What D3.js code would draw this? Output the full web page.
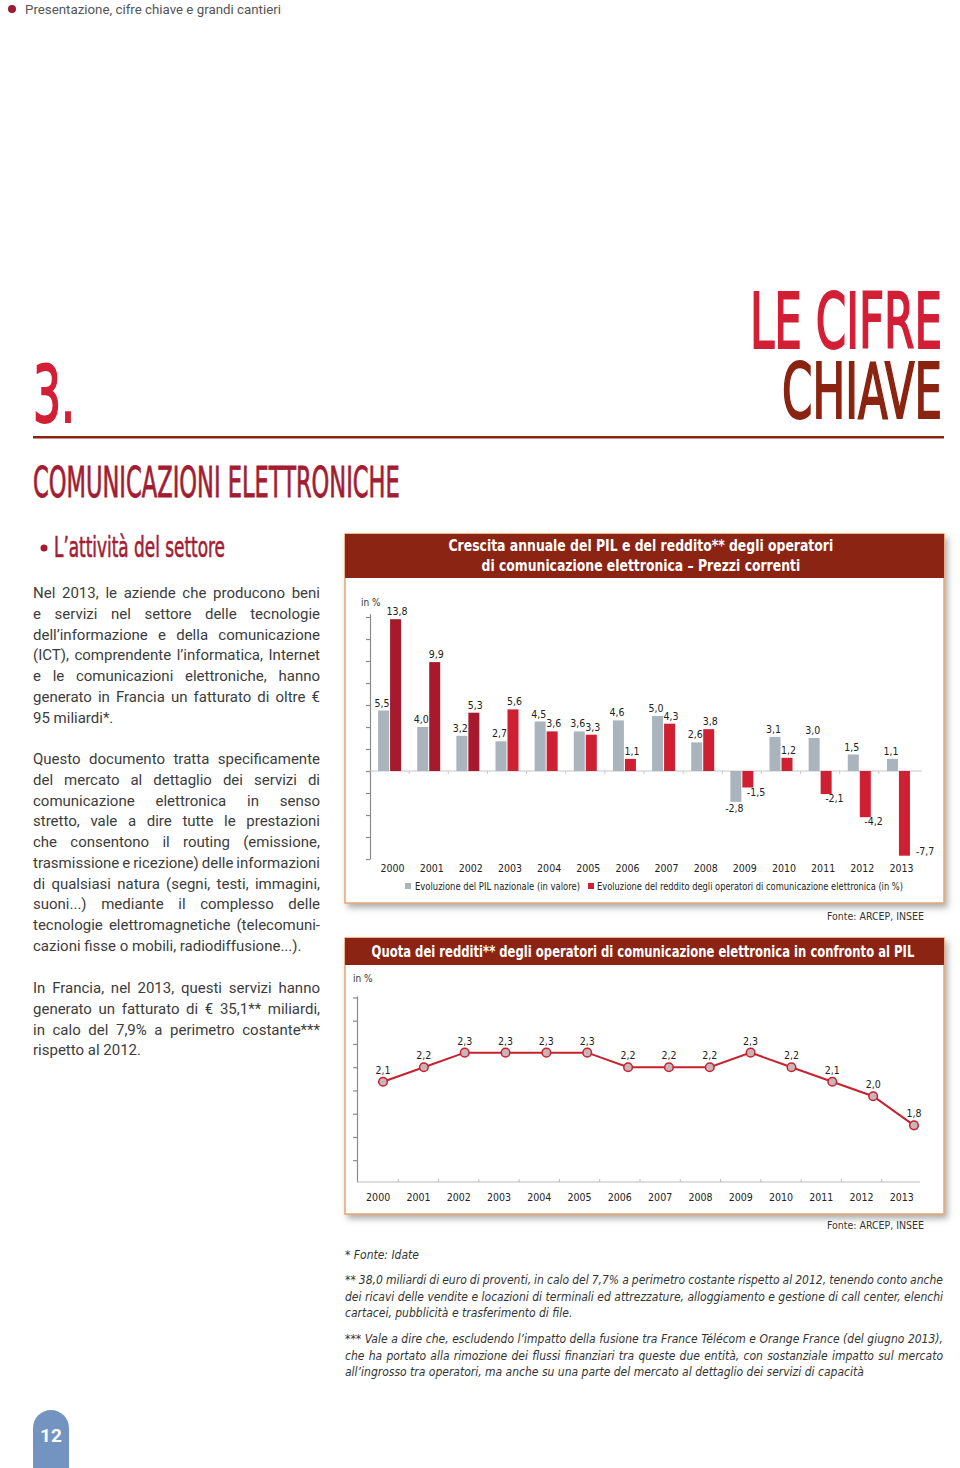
<!DOCTYPE html>
<html>
<head>
<meta charset="utf-8">
<script src="https://cdn.jsdelivr.net/npm/d3@7"></script>
<style>
  body { margin: 0; background: #fff; }
  svg { display: block; }
</style>
</head>
<body>
<script>
// ---- data ----
var years = ["2000","2001","2002","2003","2004","2005","2006","2007","2008","2009","2010","2011","2012","2013"];
var pilGrowth = [5.5, 4.0, 3.2, 2.7, 4.5, 3.6, 4.6, 5.0, 2.6, -2.8, 3.1, 3.0, 1.5, 1.1];
var revenueGrowth = [13.8, 9.9, 5.3, 5.6, 3.6, 3.3, 1.1, 4.3, 3.8, -1.5, 1.2, -2.1, -4.2, -7.7];
var revenueShare = [2.1, 2.2, 2.3, 2.3, 2.3, 2.3, 2.2, 2.2, 2.2, 2.3, 2.2, 2.1, 2.0, 1.8];
var barTicks = d3.range(-8, 15, 2);
var legendLabels = ["Evoluzione del PIL nazionale (in valore)",
                    "Evoluzione del reddito degli operatori di comunicazione elettronica (in %)"];

var para1 = ["Nel 2013, le aziende che producono beni",
  "e servizi nel settore delle tecnologie",
  "dell’informazione e della comunicazione",
  "(ICT), comprendente l’informatica, Internet",
  "e le comunicazioni elettroniche, hanno",
  "generato in Francia un fatturato di oltre €",
  "95 miliardi*."];
var para2 = ["Questo documento tratta specificamente",
  "del mercato al dettaglio dei servizi di",
  "comunicazione elettronica in senso",
  "stretto, vale a dire tutte le prestazioni",
  "che consentono il routing (emissione,",
  "trasmissione e ricezione) delle informazioni",
  "di qualsiasi natura (segni, testi, immagini,",
  "suoni...) mediante il complesso delle",
  "tecnologie elettromagnetiche (telecomuni-",
  "cazioni fisse o mobili, radiodiffusione...)."];
var para3 = ["In Francia, nel 2013, questi servizi hanno",
  "generato un fatturato di € 35,1** miliardi,",
  "in calo del 7,9% a perimetro costante***",
  "rispetto al 2012."];
var note1 = ["* Fonte: Idate"];
var note2 = ["** 38,0 miliardi di euro di proventi, in calo del 7,7% a perimetro costante rispetto al 2012, tenendo conto anche",
  "dei ricavi delle vendite e locazioni di terminali ed attrezzature, alloggiamento e gestione di call center, elenchi",
  "cartacei, pubblicità e trasferimento di file."];
var note3 = ["*** Vale a dire che, escludendo l’impatto della fusione tra France Télécom e Orange France (del giugno 2013),",
  "che ha portato alla rimozione dei flussi finanziari tra queste due entità, con sostanziale impatto sul mercato",
  "all’ingrosso tra operatori, ma anche su una parte del mercato al dettaglio dei servizi di capacità"];

// ---- page ----
var cond = "'Liberation Sans Narrow','DejaVu Sans Condensed','Roboto Condensed',sans-serif";
var sans = "Roboto,'Open Sans',sans-serif";
var comma = function(v){ return d3.format(".1f")(v).replace(".", ",").replace("−", "-"); };

var svg = d3.select("body").append("svg").attr("width", 960).attr("height", 1468);

var defs = svg.append("defs");
var f = defs.append("filter").attr("id","shadow").attr("x","-5%").attr("y","-5%").attr("width","115%").attr("height","115%");
f.append("feDropShadow").attr("dx",3).attr("dy",4).attr("stdDeviation",3)
  .attr("flood-color","#777").attr("flood-opacity",0.6);

// text scaled horizontally to a given width
function fitText(x, y, txt, size, color, width, anchor, weight){
  var t = svg.append("text").attr("x", 0).attr("y", 0).text(txt)
    .attr("font-family", cond).attr("font-size", size).attr("fill", color)
    .attr("font-weight", weight || "normal");
  var n = t.node().getComputedTextLength();
  var x0 = anchor === "end" ? x - width : anchor === "middle" ? x - width/2 : x;
  t.attr("transform", "translate(" + x0 + "," + y + ") scale(" + (width / n) + ",1)");
  return t;
}

function paragraph(lines, x, y0, lh, width, font, size, color, italic){
  lines.forEach(function(l, i){
    var t = svg.append("text").attr("x", x).attr("y", y0 + i*lh).text(l)
      .attr("font-family", font).attr("font-size", size).attr("fill", color);
    if (italic) t.attr("font-style","italic");
    if (i < lines.length - 1) {
      var n = t.node().getComputedTextLength();
      var sp = (l.match(/ /g) || []).length;
      if (sp) t.style("word-spacing", ((width - n)/sp) + "px");
    }
  });
}

// running header
svg.append("circle").attr("cx", 12).attr("cy", 9).attr("r", 4).attr("fill", "#9b1b30");
svg.append("text").attr("x", 25).attr("y", 14).text("Presentazione, cifre chiave e grandi cantieri")
  .attr("font-family", sans).attr("font-size", 13).attr("fill", "#555")
  .attr("textLength", 256).attr("lengthAdjust","spacingAndGlyphs");

// big titles
fitText(942, 348, "LE CIFRE", 76, "#d31f36", 192, "end").attr("stroke", "#d31f36").attr("stroke-width", 2);
fitText(942, 418, "CHIAVE", 76, "#8a2410", 160, "end").attr("stroke", "#8a2410").attr("stroke-width", 2);
fitText(33, 422, "3.", 78, "#d31f36", 42).attr("stroke", "#d31f36").attr("stroke-width", 2);
svg.append("rect").attr("x", 33).attr("y", 436).attr("width", 911).attr("height", 2.5).attr("fill", "#8a2410");
fitText(33, 497, "COMUNICAZIONI ELETTRONICHE", 42, "#a21d33", 367).attr("stroke", "#a21d33").attr("stroke-width", 0.8);
svg.append("circle").attr("cx", 44).attr("cy", 548).attr("r", 3.5).attr("fill", "#a21d33");
fitText(54, 557, "L’attività del settore", 28, "#a21d33", 171).attr("stroke", "#a21d33").attr("stroke-width", 0.6);

// body text
paragraph(para1, 33, 598, 20.75, 287, sans, 15, "#3c3c3c");
paragraph(para2, 33, 764, 20.75, 287, sans, 15, "#3c3c3c");
paragraph(para3, 33, 993, 20.75, 287, sans, 15, "#3c3c3c");

// ---- panel helper ----
function panel(x, y, w, hHead, hTotal){
  svg.append("rect").attr("x", x).attr("y", y).attr("width", w).attr("height", hTotal)
    .attr("fill", "#fff").attr("stroke", "#eaa56d").attr("stroke-width", 1.5)
    .attr("filter", "url(#shadow)");
  svg.append("rect").attr("x", x).attr("y", y).attr("width", w).attr("height", hHead)
    .attr("fill", "#8c2414");
}

// ================= chart 1: bars =================
panel(345, 534, 599, 44, 369);
fitText(641, 551, "Crescita annuale del PIL e del reddito** degli operatori", 15.5, "#fff", 385, "middle", "bold");
fitText(641, 571, "di comunicazione elettronica – Prezzi correnti", 15.5, "#fff", 319, "middle", "bold");

var x1 = d3.scaleBand().domain(years).range([370, 918]);
var y1 = d3.scaleLinear().domain([-8, 14.3]).range([859, 613.7]);
var bw = 11;
var cx = function(d){ return x1(d) + x1.bandwidth()/2; };

var c1 = svg.append("g");
c1.append("text").attr("x", 361).attr("y", 606).text("in %")
  .attr("font-family", cond).attr("font-size", 10).attr("fill", "#333");

c1.append("g").attr("transform", "translate(370,0)")
  .call(d3.axisLeft(y1).tickValues(barTicks).tickSize(4).tickSizeOuter(0).tickFormat(""))
  .call(function(g){ g.selectAll("path,line").attr("stroke", "#8a8a8a").attr("stroke-width", 1.2); });

// zero line with small separators
c1.append("line").attr("x1", 370).attr("x2", 922).attr("y1", y1(0)).attr("y2", y1(0))
  .attr("stroke", "#c8c8c8").attr("stroke-width", 1.2);
c1.selectAll(".sep").data(years.slice(1)).enter().append("line")
  .attr("x1", function(d){ return x1(d); }).attr("x2", function(d){ return x1(d); })
  .attr("y1", y1(0)).attr("y2", y1(0) + 3).attr("stroke", "#c8c8c8");

var rows = years.map(function(y, i){ return {year: y, i: i, pil: pilGrowth[i], rev: revenueGrowth[i]}; });

c1.selectAll(".gb").data(rows).enter().append("rect")
  .attr("x", function(d){ return cx(d.year) - bw - 0.5; })
  .attr("y", function(d){ return y1(Math.max(0, d.pil)); })
  .attr("width", bw)
  .attr("height", function(d){ return Math.abs(y1(d.pil) - y1(0)); })
  .attr("fill", "#a9b4bd");
c1.selectAll(".rb").data(rows).enter().append("rect")
  .attr("x", function(d){ return cx(d.year) + 0.5; })
  .attr("y", function(d){ return y1(Math.max(0, d.rev)); })
  .attr("width", bw)
  .attr("height", function(d){ return Math.abs(y1(d.rev) - y1(0)); })
  .attr("fill", function(d){ return d.i < 3 ? "#a71a2d" : "#cf1f33"; });

var lab = {"font-family": cond, "font-size": 10.5, "fill": "#222"};
function applyLab(s){ for (var k in lab) s.attr(k, lab[k]); return s; }

applyLab(c1.selectAll(".gl").data(rows).enter().append("text")
  .attr("x", function(d){ return cx(d.year) - bw/2 - 2; })
  .attr("y", function(d){ return d.pil >= 0 ? y1(d.pil) - 4 : y1(d.pil) + 10; })
  .attr("text-anchor", "middle")
  .text(function(d){ return comma(d.pil); }));

// red labels: above positive bars, below negative ones, beside when too close to the axis end
applyLab(c1.selectAll(".rl").data(rows).enter().append("text")
  .each(function(d){
    var t = d3.select(this), c = cx(d.year) + bw/2 + 0.5, yEnd = y1(d.rev);
    if (d.rev >= 0) t.attr("x", c + 1.5).attr("y", yEnd - 4).attr("text-anchor", "middle");
    else if (yEnd + 7 < 850) t.attr("x", c - 1).attr("y", yEnd + 8).attr("text-anchor", "start");
    else t.attr("x", c + bw/2 + 6).attr("y", yEnd - 1).attr("text-anchor", "start");
  })
  .text(function(d){ return comma(d.rev); }));

applyLab(c1.selectAll(".yr").data(years).enter().append("text")
  .attr("x", function(d){ return cx(d) + 3; }).attr("y", 872)
  .attr("text-anchor", "middle").text(function(d){ return d; }));

// legend
var lg = c1.append("g").attr("font-family", cond).attr("font-size", 10.5).attr("fill", "#222");
lg.append("rect").attr("x", 405).attr("y", 883).attr("width", 6).attr("height", 6).attr("fill", "#a9b4bd");
lg.append("text").attr("x", 415).attr("y", 890).text(legendLabels[0]).attr("textLength", 165).attr("lengthAdjust","spacingAndGlyphs");
lg.append("rect").attr("x", 588).attr("y", 883).attr("width", 6).attr("height", 6).attr("fill", "#cf1f33");
lg.append("text").attr("x", 597).attr("y", 890).text(legendLabels[1]).attr("textLength", 306).attr("lengthAdjust","spacingAndGlyphs");

svg.append("text").attr("x", 924).attr("y", 920).attr("text-anchor", "end").text("Fonte: ARCEP, INSEE")
  .attr("font-family", cond).attr("font-size", 10.5).attr("fill", "#333");

// ================= chart 2: line =================
panel(345, 938, 599, 27, 276);
fitText(643, 957, "Quota dei redditi** degli operatori di comunicazione elettronica in confronto al PIL", 15.5, "#fff", 543, "middle", "bold");

var x2band = d3.scaleBand().domain(years).range([358, 922]);
var x2 = d3.scalePoint().domain(years).range([383, 914]);
var y2 = d3.scaleLinear().domain([1.41, 2.69]).range([1182, 996]);

var c2 = svg.append("g");
c2.append("text").attr("x", 353).attr("y", 982).text("in %")
  .attr("font-family", cond).attr("font-size", 10).attr("fill", "#333");

c2.append("g").attr("transform", "translate(357,0)")
  .call(d3.axisLeft(y2).tickValues(d3.range(1.56, 2.69, 0.16)).tickSize(4).tickSizeOuter(0).tickFormat(""))
  .call(function(g){ g.selectAll("path,line").attr("stroke", "#8a8a8a").attr("stroke-width", 1.2); });

c2.append("line").attr("x1", 357).attr("x2", 920).attr("y1", 1182).attr("y2", 1182)
  .attr("stroke", "#bdbdbd").attr("stroke-width", 1.2);
c2.selectAll(".sep").data(years.slice(1)).enter().append("line")
  .attr("x1", function(d){ return x2band(d); }).attr("x2", function(d){ return x2band(d); })
  .attr("y1", 1182).attr("y2", 1179).attr("stroke", "#bdbdbd");

var pts = years.map(function(y, i){ return {year: y, v: revenueShare[i]}; });
c2.append("path").datum(pts)
  .attr("d", d3.line().x(function(d){ return x2(d.year); }).y(function(d){ return y2(d.v); }))
  .attr("fill", "none").attr("stroke", "#c8202f").attr("stroke-width", 2);
c2.selectAll(".pt").data(pts).enter().append("circle")
  .attr("cx", function(d){ return x2(d.year); }).attr("cy", function(d){ return y2(d.v); })
  .attr("r", 4.3).attr("fill", "#c7b5b7").attr("stroke", "#c8202f").attr("stroke-width", 1.5);
applyLab(c2.selectAll(".pl").data(pts).enter().append("text")
  .attr("x", function(d){ return x2(d.year); }).attr("y", function(d){ return y2(d.v) - 8; })
  .attr("text-anchor", "middle").text(function(d){ return comma(d.v); }));
applyLab(c2.selectAll(".yr").data(years).enter().append("text")
  .attr("x", function(d){ return x2band(d) + x2band.bandwidth()/2; }).attr("y", 1201)
  .attr("text-anchor", "middle").text(function(d){ return d; }));

svg.append("text").attr("x", 924).attr("y", 1229).attr("text-anchor", "end").text("Fonte: ARCEP, INSEE")
  .attr("font-family", cond).attr("font-size", 10.5).attr("fill", "#333");

// footnotes
paragraph(note1, 345, 1259, 16.6, 598, cond, 12, "#333", true);
paragraph(note2, 345, 1284, 16.6, 598, cond, 12, "#333", true);
paragraph(note3, 345, 1343, 16.6, 598, cond, 12, "#333", true);

// page tab
svg.append("path").attr("d", "M33,1468 V1428 A18,18 0 0 1 69,1428 V1468 Z").attr("fill", "#7393c0");
svg.append("text").attr("x", 51).attr("y", 1442).attr("text-anchor", "middle").text("12")
  .attr("font-family", sans).attr("font-weight", "bold").attr("font-size", 19).attr("fill", "#fff");
</script>
</body>
</html>
